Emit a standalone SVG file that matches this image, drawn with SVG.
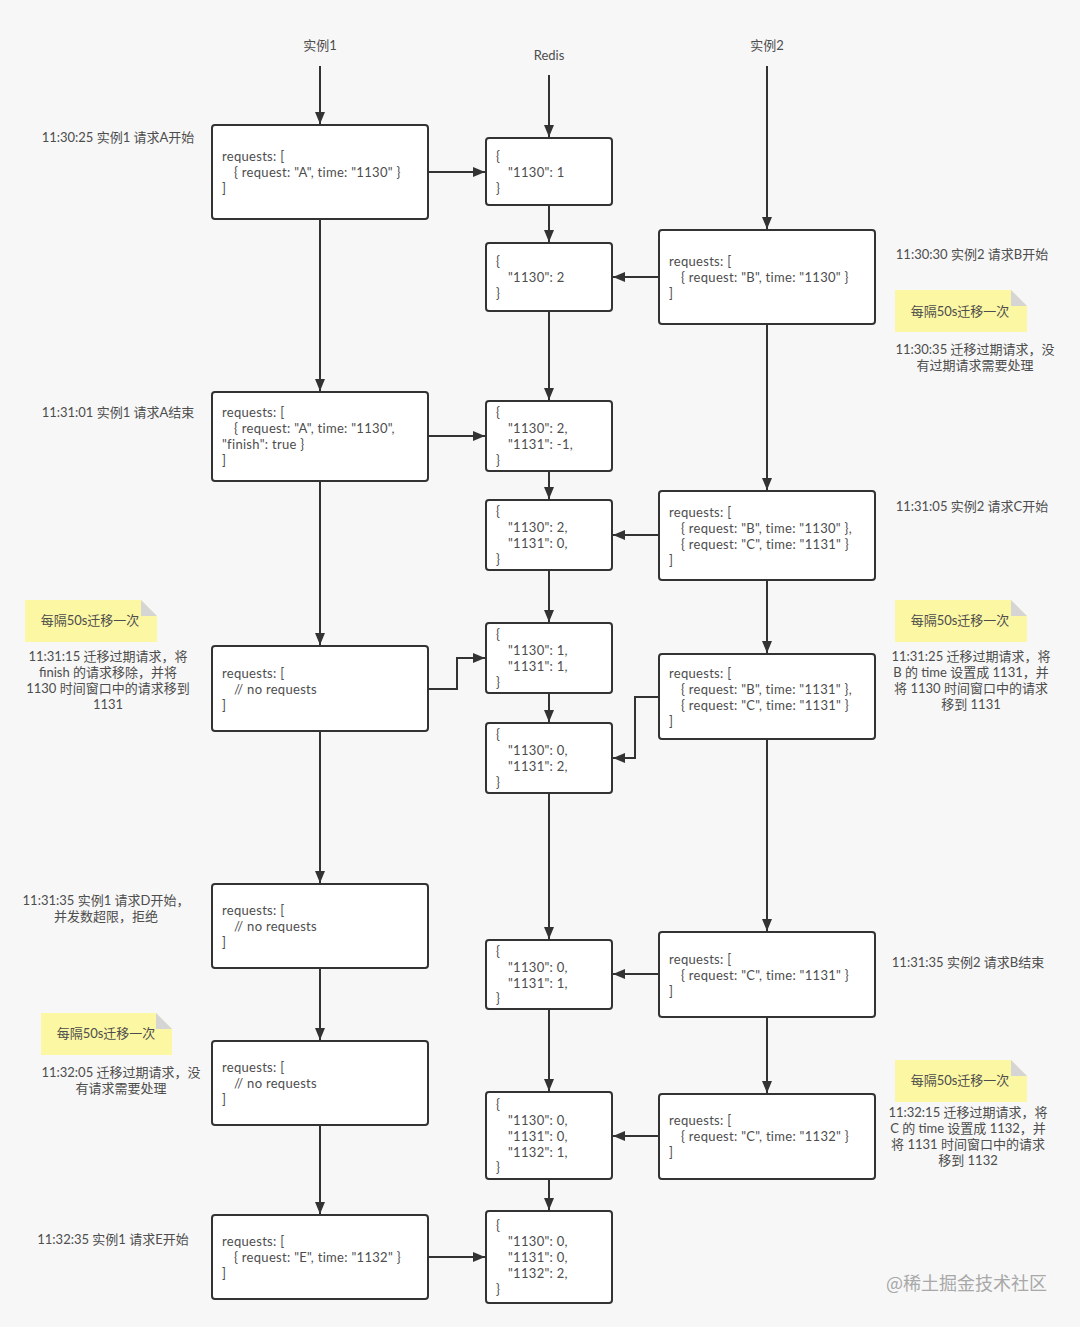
<svg xmlns="http://www.w3.org/2000/svg" width="1080" height="1327" viewBox="0 0 1080 1327">
<defs>
<style>
.bg{fill:#f7f7f7}
.box{fill:#ffffff;stroke:#333333;stroke-width:2}
.t{font-family:Lato,"Noto Sans CJK SC",sans-serif;font-size:13px;fill:#4d4d4d}
.m{letter-spacing:0.3px}
.c{text-anchor:middle}
.line{fill:none;stroke:#333333;stroke-width:2}
.note{fill:#fcf7a2}
.fold{fill:#d5d5d5}
.wm{font-family:"Noto Sans CJK SC",sans-serif;font-size:18px;fill:#a8a8a8}
</style>
<marker id="arr" viewBox="0 0 12 10" refX="12" refY="5" markerWidth="12" markerHeight="10" markerUnits="userSpaceOnUse" orient="auto">
<path d="M0,0 L12,5 L0,10 z" fill="#333333"/>
</marker>
</defs>
<rect class="bg" x="0" y="0" width="1080" height="1327"/>

<g id="headers">
<text class="t c" x="320" y="50">实例1</text>
<text class="t c" x="549" y="60">Redis</text>
<text class="t c" x="767" y="50">实例2</text>
</g>

<g id="connectors">
<line class="line" x1="320" y1="66" x2="320" y2="124" marker-end="url(#arr)"/>
<line class="line" x1="320" y1="219" x2="320" y2="391" marker-end="url(#arr)"/>
<line class="line" x1="320" y1="481" x2="320" y2="645" marker-end="url(#arr)"/>
<line class="line" x1="320" y1="731" x2="320" y2="883" marker-end="url(#arr)"/>
<line class="line" x1="320" y1="968" x2="320" y2="1040" marker-end="url(#arr)"/>
<line class="line" x1="320" y1="1125" x2="320" y2="1214" marker-end="url(#arr)"/>
<line class="line" x1="549" y1="75" x2="549" y2="137" marker-end="url(#arr)"/>
<line class="line" x1="549" y1="205" x2="549" y2="242" marker-end="url(#arr)"/>
<line class="line" x1="549" y1="311" x2="549" y2="400" marker-end="url(#arr)"/>
<line class="line" x1="549" y1="471" x2="549" y2="499" marker-end="url(#arr)"/>
<line class="line" x1="549" y1="570" x2="549" y2="622" marker-end="url(#arr)"/>
<line class="line" x1="549" y1="693" x2="549" y2="722" marker-end="url(#arr)"/>
<line class="line" x1="549" y1="793" x2="549" y2="939" marker-end="url(#arr)"/>
<line class="line" x1="549" y1="1009" x2="549" y2="1091" marker-end="url(#arr)"/>
<line class="line" x1="549" y1="1179" x2="549" y2="1210" marker-end="url(#arr)"/>
<line class="line" x1="767" y1="66" x2="767" y2="229" marker-end="url(#arr)"/>
<line class="line" x1="767" y1="324" x2="767" y2="490" marker-end="url(#arr)"/>
<line class="line" x1="767" y1="580" x2="767" y2="653" marker-end="url(#arr)"/>
<line class="line" x1="767" y1="739" x2="767" y2="931" marker-end="url(#arr)"/>
<line class="line" x1="767" y1="1017" x2="767" y2="1093" marker-end="url(#arr)"/>
<line class="line" x1="428" y1="172" x2="485" y2="172" marker-end="url(#arr)"/>
<line class="line" x1="659" y1="277" x2="613" y2="277" marker-end="url(#arr)"/>
<line class="line" x1="428" y1="436" x2="485" y2="436" marker-end="url(#arr)"/>
<line class="line" x1="659" y1="535" x2="613" y2="535" marker-end="url(#arr)"/>
<polyline class="line" points="428,689 457,689 457,658 485,658" marker-end="url(#arr)"/>
<polyline class="line" points="659,697 635,697 635,758 613,758" marker-end="url(#arr)"/>
<line class="line" x1="659" y1="974" x2="613" y2="974" marker-end="url(#arr)"/>
<line class="line" x1="659" y1="1136" x2="613" y2="1136" marker-end="url(#arr)"/>
<line class="line" x1="428" y1="1257" x2="485" y2="1257" marker-end="url(#arr)"/>
</g>

<g id="L1"><rect class="box" x="212" y="125" width="216" height="94" rx="3"/>
<text class="t m"><tspan x="222" y="161">requests: [</tspan><tspan x="234" y="177">{ request: "A", time: "1130" }</tspan><tspan x="222" y="193">]</tspan></text></g>

<g id="L2"><rect class="box" x="212" y="392" width="216" height="89" rx="3"/>
<text class="t m"><tspan x="222" y="417">requests: [</tspan><tspan x="234" y="433">{ request: "A", time: "1130",</tspan><tspan x="222" y="449">"finish": true }</tspan><tspan x="222" y="465">]</tspan></text></g>

<g id="L3"><rect class="box" x="212" y="646" width="216" height="85" rx="3"/>
<text class="t m"><tspan x="222" y="678">requests: [</tspan><tspan x="234" y="694">// no requests</tspan><tspan x="222" y="710">]</tspan></text></g>

<g id="L4"><rect class="box" x="212" y="884" width="216" height="84" rx="3"/>
<text class="t m"><tspan x="222" y="915">requests: [</tspan><tspan x="234" y="931">// no requests</tspan><tspan x="222" y="947">]</tspan></text></g>

<g id="L5"><rect class="box" x="212" y="1041" width="216" height="84" rx="3"/>
<text class="t m"><tspan x="222" y="1072">requests: [</tspan><tspan x="234" y="1088">// no requests</tspan><tspan x="222" y="1104">]</tspan></text></g>

<g id="L6"><rect class="box" x="212" y="1215" width="216" height="84" rx="3"/>
<text class="t m"><tspan x="222" y="1246">requests: [</tspan><tspan x="234" y="1262">{ request: "E", time: "1132" }</tspan><tspan x="222" y="1278">]</tspan></text></g>

<g id="R1"><rect class="box" x="486" y="138" width="126" height="67" rx="3"/>
<text class="t m"><tspan x="496" y="161">{</tspan><tspan x="508" y="177">"1130": 1</tspan><tspan x="496" y="193">}</tspan></text></g>

<g id="R2"><rect class="box" x="486" y="243" width="126" height="68" rx="3"/>
<text class="t m"><tspan x="496" y="266">{</tspan><tspan x="508" y="282">"1130": 2</tspan><tspan x="496" y="298">}</tspan></text></g>

<g id="R3"><rect class="box" x="486" y="401" width="126" height="70" rx="3"/>
<text class="t m"><tspan x="496" y="417">{</tspan><tspan x="508" y="433">"1130": 2,</tspan><tspan x="508" y="449">"1131": -1,</tspan><tspan x="496" y="465">}</tspan></text></g>

<g id="R4"><rect class="box" x="486" y="500" width="126" height="70" rx="3"/>
<text class="t m"><tspan x="496" y="516">{</tspan><tspan x="508" y="532">"1130": 2,</tspan><tspan x="508" y="548">"1131": 0,</tspan><tspan x="496" y="564">}</tspan></text></g>

<g id="R5"><rect class="box" x="486" y="623" width="126" height="70" rx="3"/>
<text class="t m"><tspan x="496" y="639">{</tspan><tspan x="508" y="655">"1130": 1,</tspan><tspan x="508" y="671">"1131": 1,</tspan><tspan x="496" y="687">}</tspan></text></g>

<g id="R6"><rect class="box" x="486" y="723" width="126" height="70" rx="3"/>
<text class="t m"><tspan x="496" y="739">{</tspan><tspan x="508" y="755">"1130": 0,</tspan><tspan x="508" y="771">"1131": 2,</tspan><tspan x="496" y="787">}</tspan></text></g>

<g id="R7"><rect class="box" x="486" y="940" width="126" height="69" rx="3"/>
<text class="t m"><tspan x="496" y="956">{</tspan><tspan x="508" y="972">"1130": 0,</tspan><tspan x="508" y="988">"1131": 1,</tspan><tspan x="496" y="1003">}</tspan></text></g>

<g id="R8"><rect class="box" x="486" y="1092" width="126" height="87" rx="3"/>
<text class="t m"><tspan x="496" y="1109">{</tspan><tspan x="508" y="1125">"1130": 0,</tspan><tspan x="508" y="1141">"1131": 0,</tspan><tspan x="508" y="1157">"1132": 1,</tspan><tspan x="496" y="1172">}</tspan></text></g>

<g id="R9"><rect class="box" x="486" y="1211" width="126" height="92" rx="3"/>
<text class="t m"><tspan x="496" y="1230">{</tspan><tspan x="508" y="1246">"1130": 0,</tspan><tspan x="508" y="1262">"1131": 0,</tspan><tspan x="508" y="1278">"1132": 2,</tspan><tspan x="496" y="1294">}</tspan></text></g>

<g id="B1"><rect class="box" x="659" y="230" width="216" height="94" rx="3"/>
<text class="t m"><tspan x="669" y="266">requests: [</tspan><tspan x="681" y="282">{ request: "B", time: "1130" }</tspan><tspan x="669" y="298">]</tspan></text></g>

<g id="B2"><rect class="box" x="659" y="491" width="216" height="89" rx="3"/>
<text class="t m"><tspan x="669" y="517">requests: [</tspan><tspan x="681" y="533">{ request: "B", time: "1130" },</tspan><tspan x="681" y="549">{ request: "C", time: "1131" }</tspan><tspan x="669" y="565">]</tspan></text></g>

<g id="B3"><rect class="box" x="659" y="654" width="216" height="85" rx="3"/>
<text class="t m"><tspan x="669" y="678">requests: [</tspan><tspan x="681" y="694">{ request: "B", time: "1131" },</tspan><tspan x="681" y="710">{ request: "C", time: "1131" }</tspan><tspan x="669" y="726">]</tspan></text></g>

<g id="B4"><rect class="box" x="659" y="932" width="216" height="85" rx="3"/>
<text class="t m"><tspan x="669" y="964">requests: [</tspan><tspan x="681" y="980">{ request: "C", time: "1131" }</tspan><tspan x="669" y="996">]</tspan></text></g>

<g id="B5"><rect class="box" x="659" y="1094" width="216" height="85" rx="3"/>
<text class="t m"><tspan x="669" y="1125">requests: [</tspan><tspan x="681" y="1141">{ request: "C", time: "1132" }</tspan><tspan x="669" y="1157">]</tspan></text></g>

<g id="N1"><path class="note" d="M895,290 L1011,290 L1027,306 L1027,332 L895,332 z"/><path class="fold" d="M1011,290 L1027,306 L1011,306 z"/>
<text class="t c" x="960" y="316">每隔50s迁移一次</text></g>
<g id="N2"><path class="note" d="M895,600 L1011,600 L1027,616 L1027,642 L895,642 z"/><path class="fold" d="M1011,600 L1027,616 L1011,616 z"/>
<text class="t c" x="960" y="625">每隔50s迁移一次</text></g>
<g id="N3"><path class="note" d="M25,600 L141,600 L157,616 L157,642 L25,642 z"/><path class="fold" d="M141,600 L157,616 L141,616 z"/>
<text class="t c" x="90" y="625">每隔50s迁移一次</text></g>
<g id="N4"><path class="note" d="M41,1013 L156,1013 L172,1029 L172,1055 L41,1055 z"/><path class="fold" d="M156,1013 L172,1029 L156,1029 z"/>
<text class="t c" x="106" y="1038">每隔50s迁移一次</text></g>
<g id="N5"><path class="note" d="M895,1060 L1011,1060 L1027,1076 L1027,1102 L895,1102 z"/><path class="fold" d="M1011,1060 L1027,1076 L1011,1076 z"/>
<text class="t c" x="960" y="1085">每隔50s迁移一次</text></g>

<g id="labels">
<text class="t c" x="118" y="142">11:30:25 实例1 请求A开始</text>
<text class="t c" x="118" y="417">11:31:01 实例1 请求A结束</text>
<text class="t c"><tspan x="108" y="661">11:31:15 迁移过期请求，将</tspan><tspan x="108" y="677">finish 的请求移除，并将</tspan><tspan x="108" y="693">1130 时间窗口中的请求移到</tspan><tspan x="108" y="709">1131</tspan></text>
<text class="t c"><tspan x="106" y="905">11:31:35 实例1 请求D开始，</tspan><tspan x="106" y="921">并发数超限，拒绝</tspan></text>
<text class="t c"><tspan x="121" y="1077">11:32:05 迁移过期请求，没</tspan><tspan x="121" y="1093">有请求需要处理</tspan></text>
<text class="t c" x="113" y="1244">11:32:35 实例1 请求E开始</text>
<text class="t c" x="972" y="259">11:30:30 实例2 请求B开始</text>
<text class="t c"><tspan x="975" y="354">11:30:35 迁移过期请求，没</tspan><tspan x="975" y="370">有过期请求需要处理</tspan></text>
<text class="t c" x="972" y="511">11:31:05 实例2 请求C开始</text>
<text class="t c"><tspan x="971" y="661">11:31:25 迁移过期请求，将</tspan><tspan x="971" y="677">B 的 time 设置成 1131，并</tspan><tspan x="971" y="693">将 1130 时间窗口中的请求</tspan><tspan x="971" y="709">移到 1131</tspan></text>
<text class="t c" x="968" y="967">11:31:35 实例2 请求B结束</text>
<text class="t c"><tspan x="968" y="1117">11:32:15 迁移过期请求，将</tspan><tspan x="968" y="1133">C 的 time 设置成 1132，并</tspan><tspan x="968" y="1149">将 1131 时间窗口中的请求</tspan><tspan x="968" y="1165">移到 1132</tspan></text>
<text class="wm" x="886" y="1290">@稀土掘金技术社区</text>
</g>
</svg>
